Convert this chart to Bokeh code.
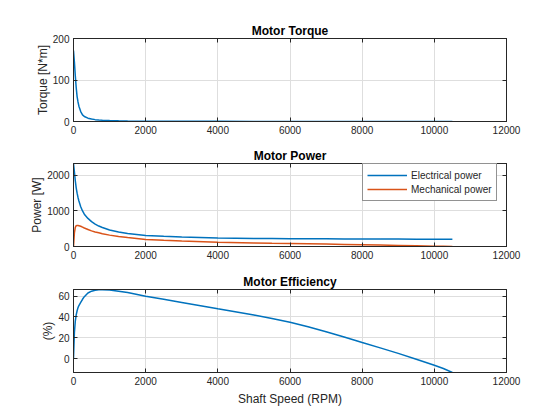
from bokeh.plotting import figure
from bokeh.layouts import column
from bokeh.models import Range1d, LinearAxis, FixedTicker, Legend, LegendItem
from bokeh.embed import file_html
from bokeh.resources import INLINE

rpm = [0, 25, 50, 75, 100, 125, 150, 200, 250, 300, 400, 500, 600, 700, 800,
       1000, 1250, 1500, 2000, 2500, 3000, 4000, 5000, 5500, 6000, 6500, 7000,
       7500, 8000, 8500, 9000, 9500, 10000, 10250, 10500]
torque = [171, 143, 110, 82, 60, 47, 37, 24, 16, 12, 8, 5.8, 4.5, 3.6, 3.0,
          2.2, 1.6, 1.2, 0.85, 0.65, 0.5, 0.35, 0.25, 0.22, 0.2, 0.17, 0.14,
          0.11, 0.09, 0.07, 0.05, 0.03, 0.02, 0.01, 0.0]
p_elec = [2336, 2100, 1850, 1650, 1500, 1380, 1280, 1120, 1000, 910, 790, 700,
          630, 575, 535, 465, 410, 365, 310, 285, 265, 240, 228, 224, 220, 217,
          215, 213, 211, 209, 208, 207, 206, 205, 205]
p_mech = [0, 380, 540, 585, 592, 590, 585, 570, 545, 520, 480, 440, 410, 385,
          360, 320, 280, 250, 200, 175, 155, 120, 100, 92, 85, 77, 68, 59, 50,
          40, 30, 20, 10, 5, 0]
eff = [0, 25, 36, 42, 46, 49, 51, 54, 57, 59.5, 63, 64.8, 65.7, 66.1, 66.2,
       66.0, 64.8, 63.5, 60, 57, 54, 47.8, 41.8, 38.6, 35, 30.5, 25.8, 20.8,
       15.5, 10.3, 5, -0.6, -6.4, -9.6, -13.4]

x_ticks = [0, 2000, 4000, 6000, 8000, 10000, 12000]
torque_ticks = [0, 100, 200]
power_ticks = [0, 1000, 2000]
eff_ticks = [0, 20, 40, 60]

BLUE = "#0072BD"
ORANGE = "#D95319"
AX = "#262626"
FONT = "Liberation Sans"


def style_axis(ax, ticks, show_labels=True, label_standoff=4):
    ax.ticker = FixedTicker(ticks=ticks)
    ax.major_tick_in = 4
    ax.major_tick_out = 0
    ax.minor_tick_line_color = None
    ax.axis_line_color = AX
    ax.major_tick_line_color = AX
    ax.major_label_text_font = FONT
    ax.axis_label_text_font = FONT
    ax.axis_label_text_font_style = "normal"
    ax.axis_label_text_font_size = "12px"
    ax.axis_label_text_color = AX
    ax.axis_label_standoff = label_standoff
    if show_labels:
        ax.major_label_text_color = AX
        ax.major_label_text_font_size = "10px"
        ax.major_label_standoff = 4
    else:
        ax.major_label_text_color = None
        ax.major_label_text_font_size = "1px"
        ax.major_label_standoff = 0


def make_fig(title, yr, yticks, ylabel, top, bottom, xlabel=None):
    p = figure(output_backend="svg", toolbar_location=None,
               frame_width=433, frame_height=83,
               x_range=Range1d(0, 12000), y_range=Range1d(*yr),
               min_border_left=73, min_border_right=46,
               min_border_top=top, min_border_bottom=bottom,
               background_fill_color="white", border_fill_color="white")
    p.title.text = title
    p.title.text_font = FONT
    p.title.text_font_style = "bold"
    p.title.text_font_size = "12px"
    p.title.align = "center"
    p.title.text_color = "black"
    p.title.standoff = 2
    p.outline_line_color = AX
    p.outline_line_width = 1
    style_axis(p.xaxis[0], x_ticks)
    style_axis(p.yaxis[0], yticks, label_standoff=0)
    p.yaxis[0].axis_label = ylabel
    if xlabel:
        p.xaxis[0].axis_label = xlabel
    top_ax = LinearAxis()
    style_axis(top_ax, x_ticks, show_labels=False)
    p.add_layout(top_ax, "above")
    right_ax = LinearAxis()
    style_axis(right_ax, yticks, show_labels=False)
    p.add_layout(right_ax, "right")
    p.xgrid.ticker = FixedTicker(ticks=x_ticks)
    p.ygrid.ticker = FixedTicker(ticks=yticks)
    p.grid.grid_line_color = "#DEDEDE"
    return p


p1 = make_fig("Motor Torque", (0, 200), torque_ticks, "Torque [N*m]", 38, 18)
p1.line(rpm, torque, line_color=BLUE, line_width=1.5)

p2 = make_fig("Motor Power", (0, 2336), power_ticks, "Power [W]", 24, 19)
r_e = p2.line(rpm, p_elec, line_color=BLUE, line_width=1.5)
r_m = p2.line(rpm, p_mech, line_color=ORANGE, line_width=1.5)
legend = Legend(items=[LegendItem(label="Electrical power", renderers=[r_e]),
                       LegendItem(label="Mechanical power", renderers=[r_m])],
                location=(289, 45), margin=0, padding=4, spacing=0,
                glyph_width=40, glyph_height=14, label_height=14,
                label_text_font=FONT, label_text_font_size="10px",
                label_text_color=AX, label_standoff=4,
                border_line_color=AX, border_line_width=1,
                background_fill_color="white", background_fill_alpha=1)
p2.add_layout(legend)

p3 = make_fig("Motor Efficiency", (-13.4, 66.4), eff_ticks, "(%)", 24, 39,
              xlabel="Shaft Speed (RPM)")
p3.line(rpm, eff, line_color=BLUE, line_width=1.5)

layout = column(p1, p2, p3, spacing=0)
open("out.html", "w").write(file_html(layout, INLINE))
